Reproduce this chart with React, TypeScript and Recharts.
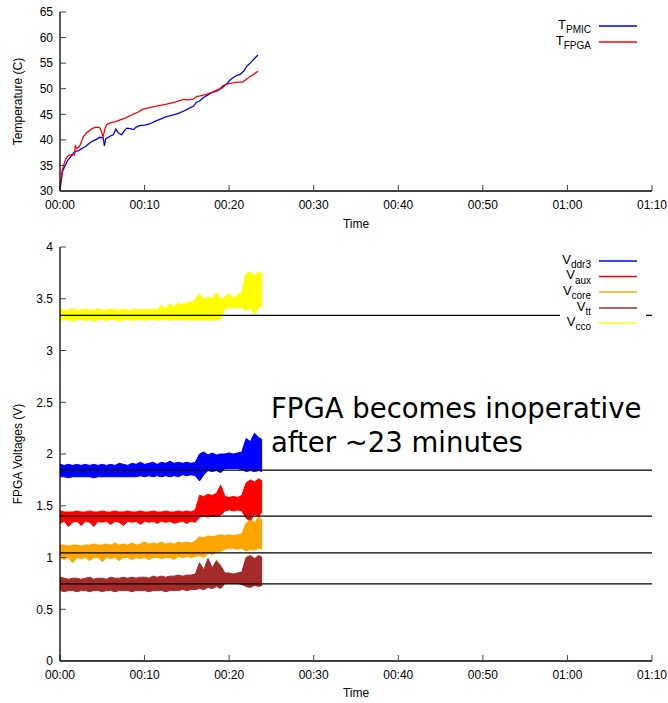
import React from 'react';
import { ComposedChart, Line, Area, XAxis, YAxis, ReferenceLine } from 'recharts';

const timeTicks = [0, 10, 20, 30, 40, 50, 60, 70];
const minorTimeTicks = [0, 2, 4, 6, 8, 10, 12, 14, 16, 18, 20, 22, 24, 26, 28, 30, 32, 34, 36, 38, 40, 42, 44, 46, 48, 50, 52, 54, 56, 58, 60, 62, 64, 66, 68, 70];
const tempTicks = [30, 35, 40, 45, 50, 55, 60, 65];
const voltTicks = [0, 0.5, 1, 1.5, 2, 2.5, 3, 3.5, 4];

// [minutes, degC]
const pmicTemp: [number, number][] = [
  [0, 30.3], [0.1, 31.5], [0.3, 33.8], [0.5, 34.6], [0.75, 35.5], [1.0, 36.2], [1.34, 36.8], [1.6, 37.5],
  [1.93, 37.8], [2.2, 37.9], [2.7, 38.4], [3.1, 38.8], [3.5, 39.4], [3.9, 39.8], [4.3, 40.1], [4.7, 40.5],
  [5.1, 40.4], [5.25, 38.8], [5.4, 40.2], [5.9, 40.7], [6.3, 41.0], [6.6, 42.1], [6.9, 41.4], [7.3, 41.0],
  [7.6, 41.8], [7.9, 42.3], [8.3, 42.2], [8.7, 42.0], [9.0, 42.5], [9.4, 42.8], [10.0, 42.9], [10.6, 43.1],
  [11.2, 43.6], [11.8, 44.0], [12.5, 44.5], [13.4, 44.9], [14.0, 45.2], [14.6, 45.6], [15.2, 46.1], [15.8, 46.6],
  [16.1, 47.3], [16.5, 47.6], [16.9, 48.2], [17.3, 48.6], [17.9, 49.2], [18.5, 49.5], [19.1, 50.1], [19.7, 50.9],
  [20.1, 51.7], [20.5, 52.2], [20.9, 52.6], [21.3, 52.8], [21.7, 53.4], [22.1, 54.4], [22.6, 55.2], [23.0, 55.9],
  [23.4, 56.6],
];

const fpgaTemp: [number, number][] = [
  [0, 30.5], [0.15, 32.5], [0.28, 34.2], [0.5, 35.4], [0.67, 36.2], [0.9, 36.8], [1.1, 37.0], [1.4, 37.1],
  [1.7, 37.0], [1.8, 38.8], [2.0, 38.3], [2.3, 38.7], [2.5, 39.5], [2.76, 40.6], [3.1, 41.3], [3.55, 41.9],
  [3.9, 42.3], [4.3, 42.5], [4.7, 42.4], [4.9, 41.6], [5.1, 40.6], [5.3, 42.1], [5.5, 42.9], [5.9, 43.3],
  [6.5, 43.5], [7.1, 43.9], [7.8, 44.3], [8.6, 45.0], [9.2, 45.4], [9.8, 46.0], [10.6, 46.3], [11.4, 46.6],
  [12.0, 46.8], [12.6, 47.0], [13.6, 47.4], [14.6, 47.9], [15.2, 47.8], [15.8, 48.0], [16.2, 48.5], [16.6, 48.6],
  [17.3, 48.9], [18.1, 49.4], [18.9, 50.0], [19.3, 50.6], [19.7, 50.9], [20.3, 51.1], [21.0, 51.3], [21.6, 51.3],
  [22.0, 51.8], [22.4, 52.3], [22.9, 52.8], [23.4, 53.4],
];

// voltage envelopes (min / max of the noisy trace) every half minute
const bandTime = [0, 0.5, 1, 1.5, 2, 2.5, 3, 3.5, 4, 4.5, 5, 5.5, 6, 6.5, 7, 7.5, 8, 8.5, 9, 9.5, 10, 10.5, 11, 11.5,
  12, 12.5, 13, 13.5, 14, 14.5, 15, 15.5, 16, 16.5, 17, 17.5, 18, 18.5, 19, 19.5, 20, 20.5, 21, 21.5, 22, 22.5, 23, 23.5, 23.9];

const ddr3Hi = [1.90, 1.89, 1.90, 1.89, 1.90, 1.89, 1.90, 1.89, 1.90, 1.89, 1.90, 1.89, 1.90, 1.89, 1.91, 1.90, 1.89, 1.91, 1.90, 1.92, 1.90, 1.91, 1.92, 1.90,
  1.92, 1.91, 1.93, 1.91, 1.92, 1.91, 1.92, 1.91, 1.92, 2.00, 2.02, 1.99, 2.01, 1.99, 2.00, 2.00, 2.01, 2.00, 2.01, 2.02, 2.15, 2.12, 2.20, 2.16, 2.14];
const ddr3Lo = [1.78, 1.78, 1.77, 1.78, 1.78, 1.78, 1.78, 1.78, 1.77, 1.78, 1.78, 1.78, 1.78, 1.78, 1.78, 1.78, 1.78, 1.78, 1.78, 1.79, 1.78, 1.79, 1.78, 1.79,
  1.78, 1.79, 1.78, 1.79, 1.78, 1.80, 1.79, 1.80, 1.79, 1.74, 1.80, 1.84, 1.83, 1.84, 1.82, 1.86, 1.86, 1.86, 1.86, 1.85, 1.83, 1.84, 1.83, 1.84, 1.83];

const auxHi = [1.45, 1.44, 1.44, 1.44, 1.45, 1.44, 1.44, 1.45, 1.44, 1.44, 1.45, 1.44, 1.44, 1.45, 1.44, 1.44, 1.45, 1.44, 1.44, 1.45, 1.44, 1.44, 1.45, 1.44,
  1.44, 1.45, 1.44, 1.44, 1.45, 1.44, 1.45, 1.44, 1.46, 1.60, 1.59, 1.61, 1.60, 1.62, 1.70, 1.59, 1.58, 1.59, 1.58, 1.60, 1.72, 1.75, 1.73, 1.76, 1.74];
const auxLo = [1.33, 1.35, 1.30, 1.34, 1.35, 1.31, 1.35, 1.34, 1.30, 1.35, 1.34, 1.35, 1.32, 1.35, 1.34, 1.31, 1.35, 1.34, 1.35, 1.32, 1.35, 1.34, 1.35, 1.33,
  1.35, 1.34, 1.35, 1.33, 1.34, 1.35, 1.33, 1.35, 1.34, 1.39, 1.40, 1.39, 1.40, 1.40, 1.41, 1.45, 1.46, 1.45, 1.46, 1.45, 1.38, 1.35, 1.42, 1.40, 1.44];

const coreHi = [1.12, 1.12, 1.11, 1.12, 1.12, 1.11, 1.12, 1.12, 1.13, 1.12, 1.12, 1.13, 1.12, 1.14, 1.12, 1.13, 1.12, 1.14, 1.12, 1.13, 1.15, 1.13, 1.14, 1.13,
  1.15, 1.13, 1.14, 1.13, 1.15, 1.14, 1.15, 1.14, 1.16, 1.20, 1.19, 1.21, 1.20, 1.21, 1.22, 1.21, 1.22, 1.21, 1.22, 1.23, 1.33, 1.36, 1.34, 1.39, 1.36];
const coreLo = [1.00, 0.98, 1.00, 0.95, 1.00, 0.99, 1.00, 0.97, 1.00, 1.00, 0.96, 1.00, 0.99, 1.00, 0.97, 1.00, 1.00, 0.98, 1.00, 0.99, 1.00, 0.98, 1.00, 1.00,
  0.99, 1.00, 1.00, 0.98, 1.01, 1.00, 1.01, 1.00, 1.01, 1.02, 1.00, 1.04, 1.03, 1.05, 1.06, 1.08, 1.09, 1.09, 1.08, 1.09, 1.06, 1.08, 1.07, 1.09, 1.08];

const ttHi = [0.81, 0.80, 0.79, 0.80, 0.80, 0.79, 0.80, 0.81, 0.79, 0.80, 0.80, 0.79, 0.81, 0.80, 0.80, 0.81, 0.80, 0.81, 0.80, 0.81, 0.81, 0.80, 0.82, 0.81,
  0.82, 0.81, 0.82, 0.82, 0.83, 0.82, 0.83, 0.83, 0.84, 0.95, 0.88, 0.99, 0.90, 0.97, 0.92, 0.85, 0.85, 0.84, 0.85, 0.86, 1.00, 1.02, 0.99, 1.02, 1.00];
const ttLo = [0.68, 0.67, 0.68, 0.68, 0.67, 0.68, 0.68, 0.67, 0.68, 0.68, 0.67, 0.68, 0.68, 0.67, 0.68, 0.68, 0.68, 0.67, 0.68, 0.68, 0.68, 0.67, 0.68, 0.68,
  0.68, 0.67, 0.68, 0.68, 0.68, 0.69, 0.68, 0.69, 0.69, 0.70, 0.69, 0.71, 0.70, 0.72, 0.70, 0.75, 0.75, 0.75, 0.75, 0.74, 0.72, 0.71, 0.73, 0.72, 0.73];

const ccoHi = [3.40, 3.39, 3.39, 3.40, 3.39, 3.39, 3.40, 3.39, 3.39, 3.40, 3.39, 3.39, 3.40, 3.39, 3.39, 3.40, 3.39, 3.39, 3.40, 3.39, 3.40, 3.39, 3.40, 3.39,
  3.44, 3.40, 3.45, 3.42, 3.46, 3.44, 3.46, 3.47, 3.49, 3.55, 3.49, 3.52, 3.50, 3.56, 3.49, 3.52, 3.55, 3.50, 3.54, 3.56, 3.74, 3.76, 3.72, 3.76, 3.74];
const ccoLo = [3.29, 3.30, 3.30, 3.28, 3.30, 3.30, 3.29, 3.30, 3.28, 3.30, 3.30, 3.29, 3.30, 3.30, 3.28, 3.30, 3.30, 3.29, 3.30, 3.30, 3.29, 3.30, 3.30, 3.29,
  3.30, 3.30, 3.29, 3.30, 3.30, 3.29, 3.30, 3.29, 3.30, 3.29, 3.30, 3.29, 3.30, 3.29, 3.31, 3.41, 3.41, 3.42, 3.41, 3.42, 3.38, 3.42, 3.34, 3.42, 3.43];

// flat black reference levels
const railLevels = [3.34, 1.845, 1.4, 1.045, 0.745];

const FONT = 'Liberation Sans, Arial, sans-serif';
const tickStyle = { fill: '#000', fontSize: 12, fontFamily: FONT };

const fmtTime = (m: number) =>
  `${String(Math.floor(m / 60)).padStart(2, '0')}:${String(m % 60).padStart(2, '0')}`;

const pmicData = pmicTemp.map(([t, v]) => ({ t, v }));
const fpgaData = fpgaTemp.map(([t, v]) => ({ t, v }));
const bandData = bandTime.map((t, i) => ({
  t,
  ddr3: [ddr3Lo[i], ddr3Hi[i]],
  aux: [auxLo[i], auxHi[i]],
  core: [coreLo[i], coreHi[i]],
  tt: [ttLo[i], ttHi[i]],
  cco: [ccoLo[i], ccoHi[i]],
}));

const bands = [
  { key: 'ddr3', color: '#0000ff' },
  { key: 'aux', color: '#ff0000' },
  { key: 'core', color: '#ffa500' },
  { key: 'tt', color: '#a52a2a' },
  { key: 'cco', color: '#ffff00' },
];

const xLabel = (dy: number) => (props: any) => {
  const vb = props.viewBox;
  return (
    <text x={vb.x + vb.width / 2} y={vb.y + dy} textAnchor="middle" fontSize={12} fontFamily={FONT} fill="#000">
      Time
    </text>
  );
};

const yLabel = (text: string) => (props: any) => {
  const vb = props.viewBox;
  const cx = 18;
  const cy = vb.y + vb.height / 2;
  return (
    <text x={cx} y={cy} transform={`rotate(-90 ${cx} ${cy})`} textAnchor="middle" dominantBaseline="central"
      fontSize={12} fontFamily={FONT} fill="#000">
      {text}
    </text>
  );
};

const frame = (yTicks: number[], yDomain: [number, number], yText: string, timeDy: number, xHeight: number) => [
  <XAxis key="xb" xAxisId="b" type="number" dataKey="t" domain={[0, 70]} ticks={timeTicks} interval={0}
    tickFormatter={fmtTime} height={xHeight} tick={tickStyle} tickSize={-6} tickMargin={15}
    tickLine={{ stroke: '#444' }} axisLine={{ stroke: '#000', strokeWidth: 1.3 }} label={xLabel(timeDy)} />,
  <XAxis key="xbm" xAxisId="bm" type="number" domain={[0, 70]} ticks={minorTimeTicks} interval={0}
    height={0} tick={false} tickSize={-3} tickLine={{ stroke: '#666' }} axisLine={false} />,
  <XAxis key="xt" xAxisId="t" orientation="top" type="number" domain={[0, 70]} ticks={timeTicks} interval={0}
    height={0} tick={false} tickSize={-6} tickLine={{ stroke: '#444' }} axisLine={{ stroke: '#000', strokeWidth: 1.3 }} />,
  <XAxis key="xtm" xAxisId="tm" orientation="top" type="number" domain={[0, 70]} ticks={minorTimeTicks} interval={0}
    height={0} tick={false} tickSize={-3} tickLine={{ stroke: '#666' }} axisLine={false} />,
  <YAxis key="yl" yAxisId="l" type="number" domain={yDomain} ticks={yTicks} interval={0} width={60}
    tick={tickStyle} tickSize={-6} tickMargin={13} tickLine={{ stroke: '#444' }}
    axisLine={{ stroke: '#000', strokeWidth: 1.3 }} label={yLabel(yText)} />,
  <YAxis key="yr" yAxisId="r" orientation="right" type="number" domain={yDomain} ticks={yTicks} interval={0} width={0}
    tick={false} tickSize={-6} tickLine={{ stroke: '#444' }} axisLine={{ stroke: '#000', strokeWidth: 1.3 }} />,
];

const LegendRow = ({ y, main, sub, color }: { y: number; main: string; sub: string; color: string }) => (
  <g>
    <text x={591} y={y + 2.5} textAnchor="end" fontFamily={FONT} fill="#000">
      <tspan fontSize={13}>{main}</tspan>
      <tspan fontSize={10} dy={4.5}>{sub}</tspan>
    </text>
    <line x1={599} x2={637} y1={y} y2={y} stroke={color} strokeWidth={1.3} />
  </g>
);

export default function App() {
  return (
    <div style={{ position: 'absolute', left: 0, top: 0, width: 668, height: 703, background: '#fff' }}>
      <div style={{ position: 'absolute', left: 0, top: 0 }}>
        <ComposedChart width={668} height={235} margin={{ top: 12, right: 16, bottom: 0, left: 0 }}>
          {frame(tempTicks, [30, 65], 'Temperature (C)', 37, 44)}
          <Line data={pmicData} dataKey="v" xAxisId="b" yAxisId="l" type="linear" stroke="#0000ff" strokeWidth={1.3}
            dot={false} activeDot={false} isAnimationActive={false} />
          <Line data={fpgaData} dataKey="v" xAxisId="b" yAxisId="l" type="linear" stroke="#ff0000" strokeWidth={1.3}
            dot={false} activeDot={false} isAnimationActive={false} />
        </ComposedChart>
      </div>
      <div style={{ position: 'absolute', left: 0, top: 235 }}>
        <ComposedChart width={668} height={468} data={bandData} margin={{ top: 12, right: 16, bottom: 0, left: 0 }}>
          {frame(voltTicks, [0, 4], 'FPGA Voltages (V)', 36, 42)}
          {bands.map((b) => (
            <Area key={b.key} dataKey={b.key} xAxisId="b" yAxisId="l" type="linear" stroke={b.color} fill={b.color}
              fillOpacity={1} strokeWidth={1} dot={false} activeDot={false} isAnimationActive={false} />
          ))}
          {railLevels.map((v) => (
            <ReferenceLine key={v} y={v} xAxisId="b" yAxisId="l" stroke="#000" strokeWidth={1.2} />
          ))}
        </ComposedChart>
      </div>
      <svg width={668} height={703} style={{ position: 'absolute', left: 0, top: 0, pointerEvents: 'none' }}>
        <LegendRow y={26} main="T" sub="PMIC" color="#0000ff" />
        <LegendRow y={42} main="T" sub="FPGA" color="#ff0000" />
        <rect x={560} y={254} width={86} height={76} fill="#fff" />
        <LegendRow y={261} main="V" sub="ddr3" color="#0000ff" />
        <LegendRow y={276.5} main="V" sub="aux" color="#ff0000" />
        <LegendRow y={292} main="V" sub="core" color="#ffa500" />
        <LegendRow y={308} main="V" sub="tt" color="#a52a2a" />
        <LegendRow y={323} main="V" sub="cco" color="#ffff00" />
        <text x={271} y={418} fontSize={27.5} fontFamily="DejaVu Sans" fill="#000">FPGA becomes inoperative</text>
        <text x={271} y={452} fontSize={27.5} fontFamily="DejaVu Sans" fill="#000">after ~23 minutes</text>
      </svg>
    </div>
  );
}
